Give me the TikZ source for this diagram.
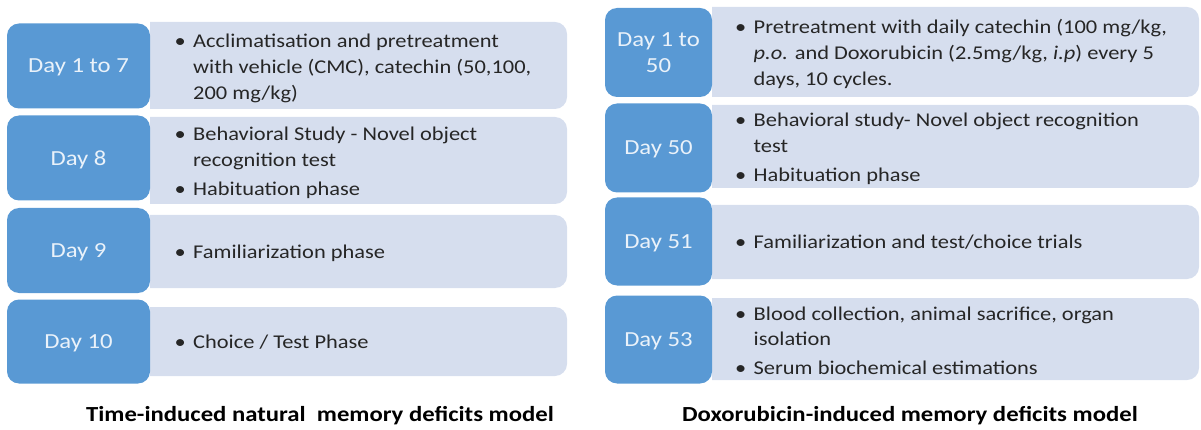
\documentclass[tikz,border=0pt]{standalone}
\usepackage{fontspec}
\setmainfont{Carlito}[FakeStretch=1.15]

\definecolor{dayblue}{RGB}{89,153,212}
\definecolor{stepfill}{RGB}{214,222,238}
\definecolor{daytext}{RGB}{234,242,250}
\definecolor{bodytext}{RGB}{38,38,38}

% bullet list of one step
\newcommand\steplist[1]{\begin{tabular}[t]{@{}l@{}l@{}}#1\end{tabular}}
\newcommand\bu{\makebox[18.5pt][l]{\textbullet}&}
% light band right of a day box, rounded on the right only
\newcommand\stepbg[4]{\fill[stepfill] ({(#1+#3)/2},#4) -- (#1,#4) -- (#1,#2) -- ({(#1+#3)/2},#2)
    [rounded corners=12pt] -- (#3,#2) -- (#3,#4) -- cycle;}

\begin{document}
\begin{tikzpicture}[x=1pt,y=-1pt,
    daybox/.style={fill=dayblue,rounded corners=12pt,text=daytext,align=center,
        inner sep=0pt,text depth=0pt,font=\fontsize{21.5}{26.5}\selectfont},
    steptext/.style={anchor=base west,text=bodytext,inner sep=0pt,
        font=\fontsize{19.5}{25.8}\selectfont},
    modeltitle/.style={anchor=base,font=\bfseries\fontsize{21.5}{26}\selectfont,text=black}]
    \useasboundingbox (0,0) rectangle (1201,430);

    \def\lw{143pt}
    \def\rw{107pt}

    % left model: steps
    \stepbg{150}{22}{567}{109}
    \stepbg{150}{117}{567}{204}
    \stepbg{150}{215}{567}{288}
    \stepbg{150}{307}{567}{376}

    \node[daybox,minimum width=\lw,minimum height=85pt] (dA1) at (78.5,66) {Day 1 to 7};
    \node[daybox,minimum width=\lw,minimum height=85pt] (dA2) at (78.5,158) {Day 8};
    \node[daybox,minimum width=\lw,minimum height=85pt] (dA3) at (78.5,250.5) {Day 9};
    \node[daybox,minimum width=\lw,minimum height=84pt] (dA4) at (78.5,341.5) {Day 10};

    \node[steptext] (tA1) at (174.5,48) {\steplist{\bu Acclimatisation and pretreatment\\
        & with vehicle (CMC), catechin (50,100,\\ & 200 mg/kg)}};
    \node[steptext] (tA2) at (174.5,140.5) {\steplist{\bu Behavioral Study - Novel object\\
        & recognition test\\[3pt] \bu Habituation phase}};
    \node[steptext] (tA3) at (174.5,258.5) {\steplist{\bu Familiarization phase}};
    \node[steptext] (tA4) at (174.5,348) {\steplist{\bu Choice / Test Phase}};

    % right model: steps
    \stepbg{712}{7}{1199}{97}
    \stepbg{712}{105}{1199}{188}
    \stepbg{712}{205}{1199}{279}
    \stepbg{712}{298}{1199}{380}

    \node[daybox,minimum width=\rw,minimum height=89pt] (dB1) at (658.5,52.5) {Day 1 to\\ 50};
    \node[daybox,minimum width=\rw,minimum height=89pt] (dB2) at (658.5,148) {Day 50};
    \node[daybox,minimum width=\rw,minimum height=88pt] (dB3) at (658.5,241.5) {Day 51};
    \node[daybox,minimum width=\rw,minimum height=88pt] (dB4) at (658.5,339.5) {Day 53};

    \node[steptext] (tB1) at (735,33.5) {\steplist{\bu Pretreatment with daily catechin (100 mg/kg,\\
        & \textit{p.o.} and Doxorubicin (2.5mg/kg, \textit{i.p}) every 5\\ & days, 10 cycles.}};
    \node[steptext] (tB2) at (735,127) {\steplist{\bu Behavioral study- Novel object recognition\\
        & test\\[3pt] \bu Habituation phase}};
    \node[steptext] (tB3) at (735,249) {\steplist{\bu Familiarization and test/choice trials}};
    \node[steptext] (tB4) at (735,320) {\steplist{\bu Blood collection, animal sacrifice, organ\\
        & isolation\\[3pt] \bu Serum biochemical estimations}};

    % model names
    \node[modeltitle] (mA) at (320,421.5) {Time-induced natural~ memory deficits model};
    \node[modeltitle] (mB) at (910,421.5) {Doxorubicin-induced memory deficits model};
\end{tikzpicture}
\end{document}
